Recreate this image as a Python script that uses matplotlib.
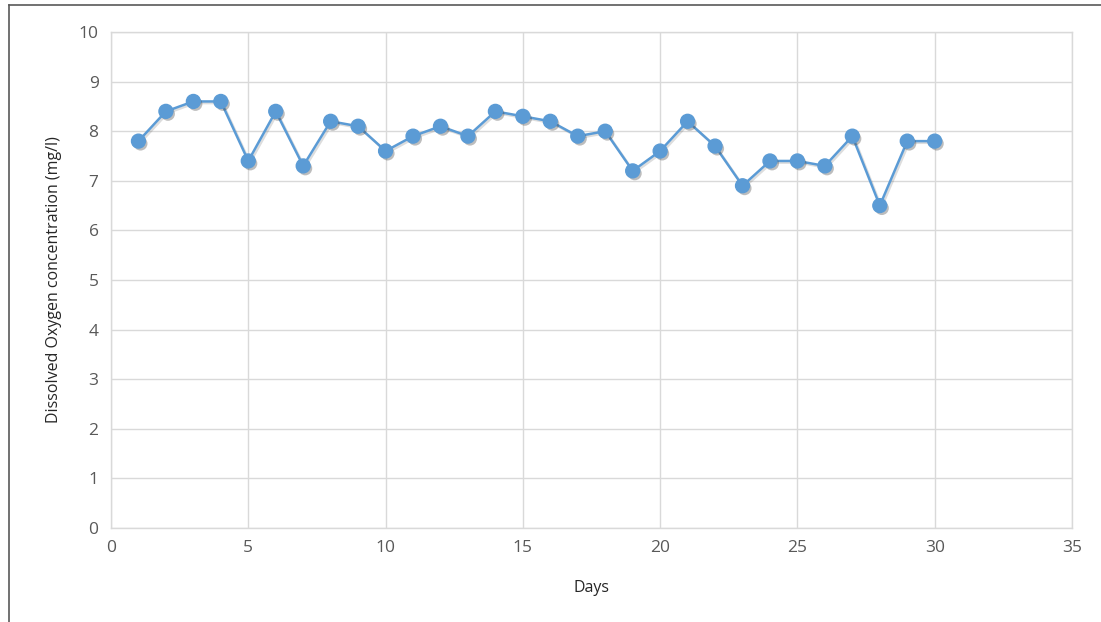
import matplotlib
matplotlib.use("Agg")
import matplotlib.pyplot as plt
import matplotlib.patheffects as pe
from matplotlib.lines import Line2D

days = list(range(1, 31))
dissolved_oxygen = [7.8, 8.4, 8.6, 8.6, 7.4, 8.4, 7.3, 8.2, 8.1, 7.6,
                    7.9, 8.1, 7.9, 8.4, 8.3, 8.2, 7.9, 8.0, 7.2, 7.6,
                    8.2, 7.7, 6.9, 7.4, 7.4, 7.3, 7.9, 6.5, 7.8, 7.8]
x_ticks = [0, 5, 10, 15, 20, 25, 30, 35]
y_ticks = list(range(0, 11))

plt.rcParams['font.family'] = ['Open Sans', 'DejaVu Sans']

W, H = 1101, 622
fig = plt.figure(figsize=(W / 100, H / 100), dpi=100)
ax = fig.add_axes([111 / W, 1 - 528 / H, (1072 - 111) / W, (528 - 32) / H])

text_color = '#595959'
grid_color = '#D9D9D9'
series_color = '#5B9BD5'

# connecting line with a soft drop shadow
ax.plot(days, dissolved_oxygen, color=series_color, lw=1.8, zorder=3,
        path_effects=[pe.SimpleLineShadow(offset=(1.2, -1.2), shadow_color='#555555', alpha=0.2),
                      pe.Normal()])
# circular markers with shadow
ax.plot(days, dissolved_oxygen, linestyle='none', marker='o', markersize=10,
        markerfacecolor=series_color, markeredgecolor=series_color, zorder=4,
        path_effects=[pe.SimplePatchShadow(offset=(1.5, -1.8), shadow_rgbFace='#444444', alpha=0.35),
                      pe.Normal()])

ax.set_xlim(0, 35)
ax.set_ylim(0, 10)
ax.set_xticks(x_ticks)
ax.set_yticks(y_ticks)
ax.grid(True, color=grid_color, lw=1)
ax.set_axisbelow(True)
for s in ax.spines.values():
    s.set_color(grid_color)
    s.set_linewidth(1)
ax.tick_params(length=0, labelsize=12.5, colors=text_color, pad=9)

ax.set_xlabel('Days', fontsize=11.5, color='#262626', labelpad=17)
ax.set_ylabel('Dissolved Oxygen concentration (mg/l)', fontsize=11.5,
              color='#262626', labelpad=12)

# outer frame edges
fig.add_artist(Line2D([9 / W, 9 / W], [0, 1 - 5 / H], transform=fig.transFigure,
                      color='#595959', lw=1.2))
fig.add_artist(Line2D([9 / W, 1], [1 - 5 / H, 1 - 5 / H], transform=fig.transFigure,
                      color='#595959', lw=1.2))

fig.savefig('out.png', dpi=100)
